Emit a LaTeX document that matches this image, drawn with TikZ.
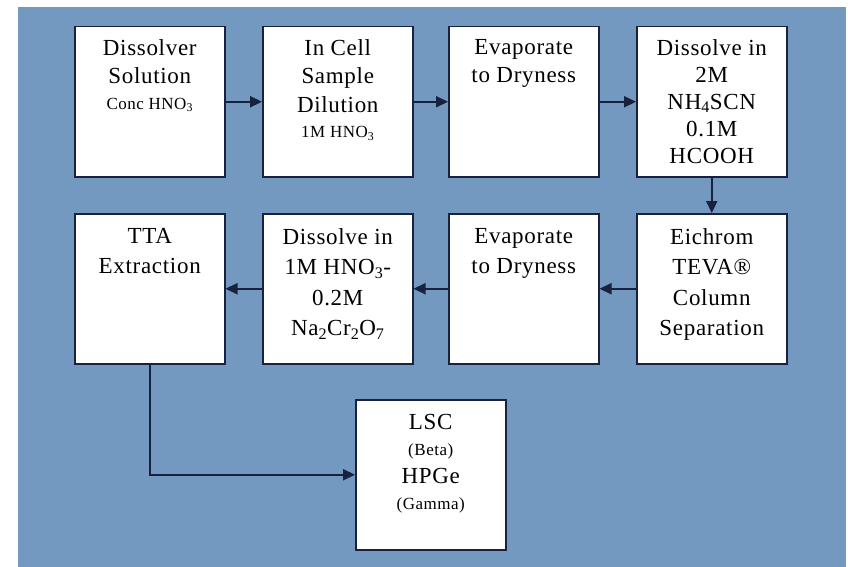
\documentclass[tikz,border=0pt]{standalone}
\usepackage{fontspec}
\setmainfont[LetterSpace=3]{Liberation Serif}
\usetikzlibrary{arrows.meta,calc}
\definecolor{panel}{RGB}{115,153,193}
\definecolor{ink}{RGB}{24,34,62}
\tikzset{
  stage/.style={draw=ink, line width=1.5pt, fill=white, minimum width=150, minimum height=150,
    inner sep=0pt, anchor=north west},
  caption/.style={anchor=north, inner sep=0pt, align=center, text=black,
    font=\fontsize{23}{28.5}\selectfont},
  wide caption/.style={caption, font=\fontsize{23}{30.5}\selectfont},
  flow/.style={draw=ink, line width=2.2pt, -{Triangle[length=12pt,width=11pt]}},
}
\newcommand{\sml}[1]{{\fontsize{17}{19}\selectfont #1}}
\begin{document}
\begin{tikzpicture}[x=1pt,y=-1pt]
  \useasboundingbox (0,0) rectangle (848,567);
  \fill[white] (0,0) rectangle (848,567);
  \fill[panel] (18,7) rectangle (846,567);

  % process stages
  \node[stage] (s1) at (74,26)  {};
  \node[stage] (s2) at (262,26) {};
  \node[stage] (s3) at (448,26) {};
  \node[stage] (s4) at (636,26) {};
  \node[stage] (s5) at (636,213) {};
  \node[stage] (s6) at (448,213) {};
  \node[stage] (s7) at (262,213) {};
  \node[stage] (s8) at (74,213)  {};
  \node[stage] (s9) at (355,399) {};

  % stage texts
  \node[caption] (t1) at ($(s1.north)+(0,13)$) {Dissolver\\Solution\\[-3pt]\sml{Conc HNO\textsubscript{3}}};
  \node[caption] (t2) at ($(s2.north)+(0,13)$) {In Cell\\Sample\\Dilution\\[-3pt]\sml{1M HNO\textsubscript{3}}};
  \node[caption] (t3) at ($(s3.north)+(0,13)$) {Evaporate\\to Dryness};
  \node[caption] (t4) at ($(s4.north)+(0,13)$) {Dissolve in\\[-1.5pt]2M\\[-1.5pt]NH\textsubscript{4}SCN\\[-1.5pt]0.1M\\[-1.5pt]HCOOH};
  \node[wide caption] (t5) at ($(s5.north)+(0,15)$) {Eichrom\\TEVA®\\Column\\Separation};
  \node[wide caption] (t6) at ($(s6.north)+(0,15)$) {Evaporate\\to Dryness};
  \node[wide caption] (t7) at ($(s7.north)+(0,15)$) {Dissolve in\\1M HNO\textsubscript{3}-\\0.2M\\Na\textsubscript{2}Cr\textsubscript{2}O\textsubscript{7}};
  \node[wide caption] (t8) at ($(s8.north)+(0,15)$) {TTA\\Extraction};
  \node[caption] (t9) at ($(s9.north)+(0,15)$) {LSC\\[-2pt]\sml{(Beta)}\\[-1pt]HPGe\\[-2pt]\sml{(Gamma)}};

  % connectors
  \draw[flow] (s1) -- (s2);
  \draw[flow] (s2) -- (s3);
  \draw[flow] (s3) -- (s4);
  \draw[flow] (s4) -- (s5);
  \draw[flow] (s5) -- (s6);
  \draw[flow] (s6) -- (s7);
  \draw[flow] (s7) -- (s8);
  \draw[flow] (s8.south) |- (s9.west);
\end{tikzpicture}
\end{document}
